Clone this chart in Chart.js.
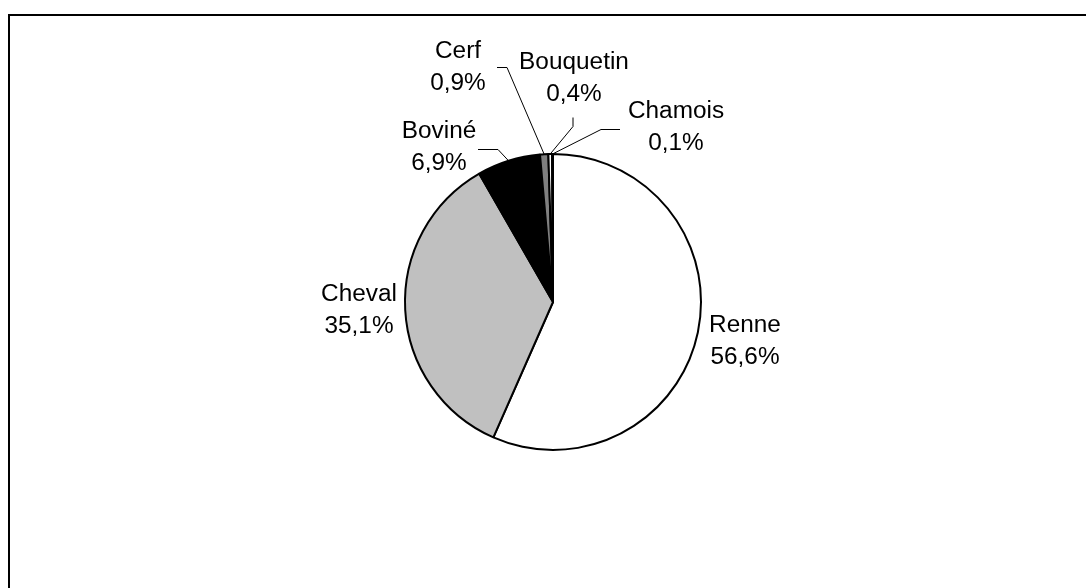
<!DOCTYPE html>
<html>
<head>
<meta charset="utf-8">
<script src="https://cdn.jsdelivr.net/npm/chart.js@4/dist/chart.umd.min.js"></script>
<style>
  html, body { margin: 0; padding: 0; background: #fff; }
  #wrap { position: relative; width: 1086px; height: 588px; }
</style>
</head>
<body>
<div id="wrap"><canvas id="pie" width="1086" height="588"></canvas></div>
<script>
// données (pourcentages)
const species = ['Renne', 'Cheval', 'Boviné', 'Cerf', 'Bouquetin', 'Chamois'];
const percents = [56.6, 35.1, 6.9, 0.9, 0.4, 0.1];
const percentLabels = ['56,6%', '35,1%', '6,9%', '0,9%', '0,4%', '0,1%'];

// position des étiquettes (centre de la 1re ligne) et coude du trait de rappel
const labelPos = [
  { x: 745, y: 326, leader: null },
  { x: 359, y: 295, leader: null },
  { x: 439, y: 132, leader: [[478, 149], [498, 149]] },
  { x: 458, y: 52, leader: [[497, 67], [507, 67]] },
  { x: 574, y: 63, leader: [[573, 117], [573, 126]] },
  { x: 676, y: 112, leader: [[620, 129], [601, 129]] }
];

// motif pointillé pour le bouquetin
function dotPattern() {
  const c = document.createElement('canvas');
  c.width = 4; c.height = 4;
  const g = c.getContext('2d');
  g.fillStyle = '#fff';
  g.fillRect(0, 0, 4, 4);
  g.fillStyle = '#666';
  g.fillRect(0, 0, 1, 2);
  return g.createPattern(c, 'repeat');
}

const fills = ['#ffffff', '#c0c0c0', '#000000', '#808080', dotPattern(), '#ffffff'];

// cadre + étiquettes
const labelPlugin = {
  id: 'labels',
  beforeDraw(chart) {
    const ctx = chart.ctx;
    ctx.save();
    ctx.strokeStyle = '#000';
    ctx.lineWidth = 2;
    ctx.beginPath();
    ctx.moveTo(9, 600);
    ctx.lineTo(9, 15);
    ctx.lineTo(1100, 15);
    ctx.stroke();
    ctx.restore();
  },
  afterDraw(chart) {
    const ctx = chart.ctx;
    const arcs = chart.getDatasetMeta(0).data;
    ctx.save();
    // traits de rappel
    ctx.strokeStyle = '#000';
    ctx.lineWidth = 1;
    arcs.forEach((arc, i) => {
      const p = labelPos[i];
      if (!p.leader) return;
      const mid = (arc.startAngle + arc.endAngle) / 2;
      const ex = arc.x + Math.cos(mid) * arc.outerRadius;
      const ey = arc.y + Math.sin(mid) * arc.outerRadius;
      ctx.beginPath();
      ctx.moveTo(p.leader[0][0], p.leader[0][1] + 0.5);
      ctx.lineTo(p.leader[1][0], p.leader[1][1] + 0.5);
      ctx.lineTo(ex, ey);
      ctx.stroke();
    });
    // textes
    ctx.fillStyle = '#000';
    ctx.font = '23px "Liberation Sans", Arial, sans-serif';
    ctx.textAlign = 'center';
    ctx.textBaseline = 'middle';
    species.forEach((name, i) => {
      const p = labelPos[i];
      [name, percentLabels[i]].forEach((t, k) => {
        ctx.save();
        ctx.translate(p.x, p.y + k * 31.5);
        ctx.scale(1.06, 1);
        ctx.fillText(t, 0, 0);
        ctx.restore();
      });
    });
    ctx.restore();
  }
};

new Chart(document.getElementById('pie'), {
  type: 'pie',
  data: {
    labels: species,
    datasets: [{
      data: percents,
      backgroundColor: fills,
      borderColor: '#000',
      borderWidth: 2
    }]
  },
  options: {
    responsive: false,
    animation: false,
    radius: 148,
    layout: { padding: { left: 20, right: 0, top: 16, bottom: 0 } },
    plugins: {
      legend: { display: false },
      tooltip: { enabled: false }
    }
  },
  plugins: [labelPlugin]
});
</script>
</body>
</html>
